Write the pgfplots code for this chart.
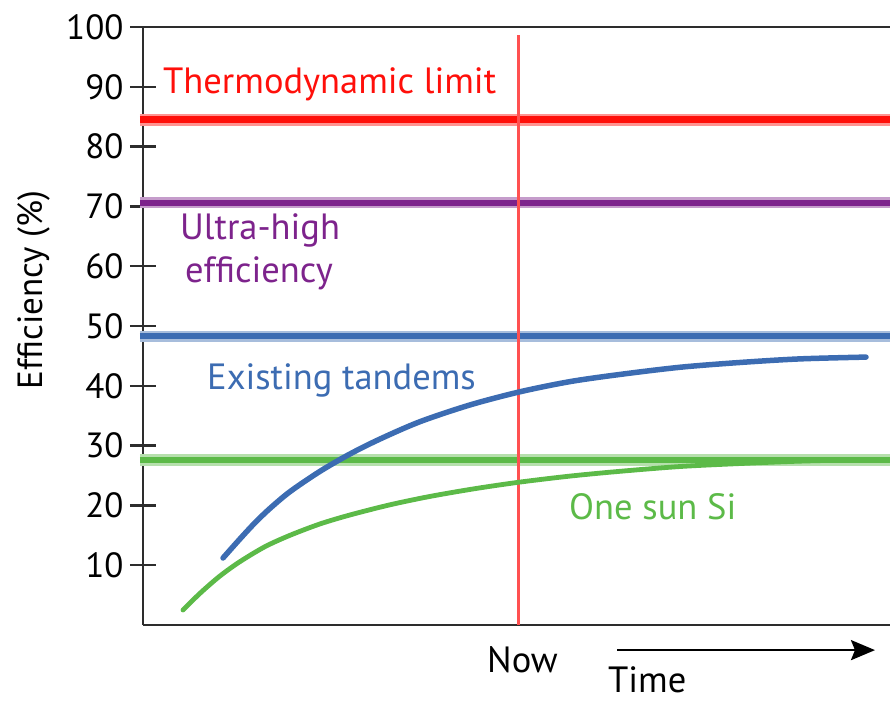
\documentclass[border=0pt]{standalone}
\usepackage{fontspec}
\setmainfont{PT Sans}
\usepackage{pgfplots}
\pgfplotsset{compat=1.18}
\usetikzlibrary{arrows.meta}
\definecolor{cred}{RGB}{255,15,10}
\definecolor{cvline}{RGB}{255,80,80}
\definecolor{cpurple}{RGB}{125,35,140}
\definecolor{cblue}{RGB}{60,108,178}
\definecolor{cgreen}{RGB}{92,186,72}
\definecolor{caxis}{RGB}{45,45,45}
\newcommand{\lbl}{\fontsize{36.5bp}{40bp}\selectfont}
\begin{document}
\begin{tikzpicture}
\begin{axis}[
  at={(0,0)}, anchor=south west,
  scale only axis,
  width=747bp, height=598bp,
  xmin=143, xmax=890, ymin=0, ymax=100,
  axis x line*=box, axis y line*=left,
  axis line style={line width=2.6bp, color=caxis},
  xtick=\empty,
  ytick={10,20,...,100},
  tick align=center,
  major tick length=26bp,
  tick style={line width=2.4bp, color=caxis},
  yticklabel style={font=\fontsize{35bp}{38bp}\selectfont, color=black, xshift=-3bp},
  /pgf/number format/assume math mode=true,
  clip=false,
]
% horizontal limit lines (soft halo + core)
\addplot[cred!45, line width=12bp, forget plot] coordinates {(140,84.5) (890,84.5)};
\addplot[cred, line width=6.5bp] coordinates {(140,84.5) (890,84.5)};
\addplot[cpurple!45, line width=11bp, forget plot] coordinates {(140,70.6) (890,70.6)};
\addplot[cpurple, line width=6bp] coordinates {(140,70.6) (890,70.6)};
\addplot[cblue!45, line width=11bp, forget plot] coordinates {(140,48.3) (890,48.3)};
\addplot[cblue, line width=6bp] coordinates {(140,48.3) (890,48.3)};
\addplot[cgreen!45, line width=12bp, forget plot] coordinates {(140,27.6) (890,27.6)};
\addplot[cgreen, line width=6.5bp] coordinates {(140,27.6) (890,27.6)};
% now line
\addplot[cvline, line width=3bp] coordinates {(518,0) (518,98.7)};
% curves
\addplot[cblue, line width=5.5bp, smooth, line cap=round] coordinates {
 (223,11.2) (240,14.4) (255,17.1) (270,19.5) (290,22.3) (320,25.7) (350,28.6)
 (380,31.1) (420,34.0) (470,36.8) (520,39.0) (570,40.7) (620,41.9) (680,43.1)
 (740,43.9) (800,44.5) (866,44.8)};
\addplot[cgreen, line width=4.8bp, smooth, line cap=round] coordinates {
 (183,2.5) (200,5.3) (220,8.2) (240,10.6) (265,13.1) (290,15.0) (320,16.9)
 (350,18.4) (390,20.1) (430,21.5) (475,22.8) (520,23.9) (570,24.9) (620,25.7)
 (680,26.5) (740,27.0) (800,27.4) (850,27.6)};
% labels
\node[anchor=base west, text=cred, font=\lbl, inner sep=0pt] at (axis cs:163,88.9) {Thermodynamic limit};
\node[anchor=base west, text=cpurple, font=\lbl, inner sep=0pt] at (axis cs:180,64.4) {Ultra-high};
\node[anchor=base west, text=cpurple, font=\lbl, inner sep=0pt] at (axis cs:185,57.2) {efficiency};
\node[anchor=base west, text=cblue, font=\lbl, inner sep=0pt] at (axis cs:207,39.3) {Existing tandems};
\node[anchor=base west, text=cgreen, font=\lbl, inner sep=0pt] at (axis cs:569,17.6) {One sun Si};
\node[anchor=base west, font=\lbl, inner sep=0pt] at (axis cs:487,-8.0) {Now};
\node[anchor=base west, font=\lbl, inner sep=0pt] at (axis cs:608,-11.3) {Time};
\draw[line width=2.6bp, -{Stealth[length=24bp,width=20bp,inset=4bp]}] (axis cs:617,-4.2) -- (axis cs:875,-4.2);
\node[rotate=90, anchor=base, font=\fontsize{35bp}{38bp}\selectfont, inner sep=0pt] at (axis cs:43,56.0) {Efficiency (\%)};
\end{axis}
\pgfresetboundingbox
\path[use as bounding box] (-143bp,-77bp) rectangle (747bp,625bp);
\end{tikzpicture}
\end{document}
